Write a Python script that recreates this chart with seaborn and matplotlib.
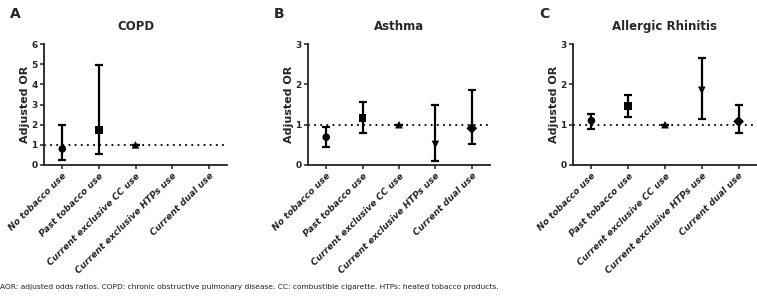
import numpy as np
import pandas as pd
import matplotlib
matplotlib.use("Agg")
import matplotlib.pyplot as plt
import seaborn as sns

categories = ["No tobacco use", "Past tobacco use", "Current exclusive CC use",
              "Current exclusive HTPs use", "Current dual use"]
markers = ["o", "s", "^", "v", "D"]

# adjusted OR, lower and upper CI (nan = not shown)
copd_or = [0.80, 1.73, 1.00, np.nan, np.nan]
copd_lo = [0.25, 0.55, 1.00, np.nan, np.nan]
copd_hi = [1.97, 4.95, 1.00, np.nan, np.nan]

asthma_or = [0.69, 1.17, 1.00, 0.51, 0.91]
asthma_lo = [0.44, 0.79, 1.00, 0.10, 0.52]
asthma_hi = [0.93, 1.56, 1.00, 1.49, 1.86]

ar_or = [1.10, 1.47, 1.00, 1.85, 1.08]
ar_lo = [0.90, 1.19, 1.00, 1.14, 0.79]
ar_hi = [1.27, 1.74, 1.00, 2.66, 1.49]

panels = [
    ("A", "COPD", copd_or, copd_lo, copd_hi, 6),
    ("B", "Asthma", asthma_or, asthma_lo, asthma_hi, 3),
    ("C", "Allergic Rhinitis", ar_or, ar_lo, ar_hi, 3),
]

footer = ("AOR: adjusted odds ratios. COPD: chronic obstructive pulmonary disease. "
          "CC: combustible cigarette. HTPs: heated tobacco products.")

sns.set_style("ticks")
plt.rcParams["font.family"] = ["DejaVu Sans"]

fig = plt.figure(figsize=(7.57, 2.96), dpi=100)
W, H = 757.0, 296.0
ax_lefts = [44, 308, 573]
ax_widths = [183, 182, 184]

for i, (letter, title, orv, lo, hi, ymax) in enumerate(panels):
    ax = fig.add_axes([ax_lefts[i] / W, (H - 165) / H, ax_widths[i] / W, 121 / H])
    df = pd.DataFrame({"pos": np.arange(len(categories)), "cat": categories,
                       "or": orv, "lo": lo, "hi": hi})
    d = df.dropna()
    ax.axhline(1, color="black", lw=1.3, ls=(0, (1, 2.4)), zorder=1)
    ax.errorbar(d["pos"], d["or"], yerr=[d["or"] - d["lo"], d["hi"] - d["or"]],
                fmt="none", ecolor="black", elinewidth=1.6, capsize=2.8,
                capthick=1.6, zorder=2)
    sns.scatterplot(data=d, x="pos", y="or", style="cat",
                    markers=dict(zip(categories, markers)), color="black",
                    s=30, edgecolor="black", linewidth=0, legend=False,
                    ax=ax, zorder=3)
    ax.set_xlim(-0.5, 4.5)
    ax.set_ylim(0, ymax)
    ax.set_yticks(range(ymax + 1))
    ax.set_xticks(range(len(categories)))
    ax.set_xticklabels(categories, rotation=45, ha="right",
                       rotation_mode="anchor", fontsize=6.5,
                       fontweight="bold", fontstyle="italic")
    for t in ax.get_yticklabels():
        t.set_fontsize(6.5)
        t.set_fontweight("bold")
    ax.set_xlabel("")
    ax.set_ylabel("Adjusted OR", fontsize=8, fontweight="bold", labelpad=1)
    ax.set_title(title, fontsize=8.5, fontweight="bold", pad=10)
    sns.despine(ax=ax)
    for sp in ["left", "bottom"]:
        ax.spines[sp].set_linewidth(1.3)
        ax.spines[sp].set_color("#222222")
    ax.tick_params(axis="both", length=3, width=1.1, pad=1.5, color="#222222")
    fig.text((ax_lefts[i] - 34) / W, 1 - 14 / H, letter, fontsize=10,
             fontweight="bold", ha="left", va="center")

fig.text(0.0, 9 / H, footer, fontsize=5.4, color="#222222",
         family=["Liberation Sans Narrow", "DejaVu Sans"], ha="left", va="center")

fig.savefig("out.png", dpi=100)
